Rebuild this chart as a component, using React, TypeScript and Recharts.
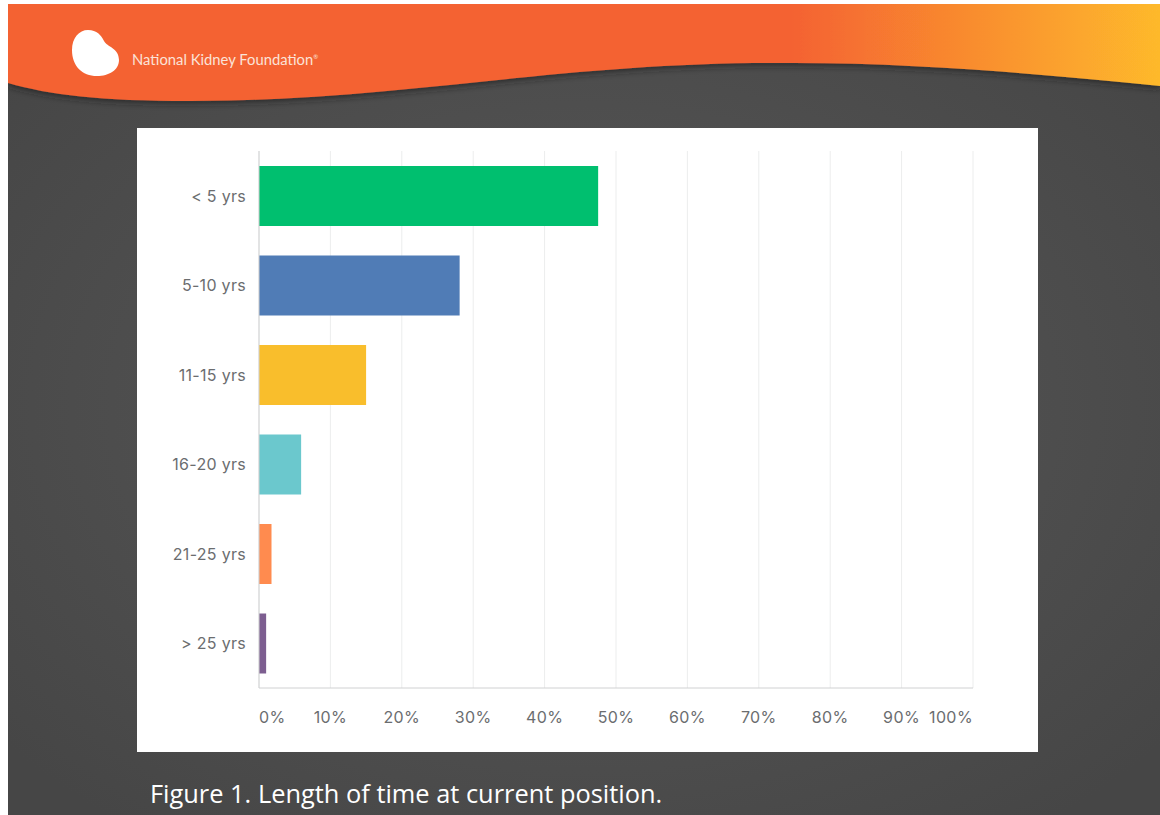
import { BarChart, Bar, Cell, XAxis, YAxis, CartesianGrid } from 'recharts';

const categories = ['< 5 yrs', '5-10 yrs', '11-15 yrs', '16-20 yrs', '21-25 yrs', '> 25 yrs'];
const shares = [47.5, 28.1, 15, 5.9, 1.75, 1];
const barColors = ['#00bf6f', '#507cb6', '#f9be2c', '#6bc8cd', '#ff8b4f', '#7d5e90'];
const percentTicks = [0, 10, 20, 30, 40, 50, 60, 70, 80, 90, 100];

const rows = categories.map((name, i) => ({ name, share: shares[i] }));

const labelFont = 'Inter, "Noto Sans", sans-serif';
const labelColor = '#6b6d6f';

// first and last tick labels sit inside the plot edges
function PercentTick({ x, y, payload }: any) {
  const v = payload.value;
  const anchor = v === 0 ? 'start' : v === 100 ? 'end' : 'middle';
  return (
    <text x={x} y={y} dy={6} textAnchor={anchor} fontSize={16} letterSpacing={0.4} fontFamily={labelFont} fill={labelColor}>
      {v}%
    </text>
  );
}

function CategoryTick({ x, y, payload }: any) {
  return (
    <text x={x} y={y} dy={6} textAnchor="end" fontSize={16} letterSpacing={0.3} fontFamily={labelFont} fill={labelColor}>
      {payload.value}
    </text>
  );
}

function SlideBackground() {
  return (
    <svg width={1160} height={815} style={{ position: 'absolute', left: 0, top: 0 }}>
      <defs>
        <radialGradient id="slideBg" cx="50%" cy="50%" r="65%">
          <stop offset="0%" stopColor="#595959" />
          <stop offset="100%" stopColor="#464646" />
        </radialGradient>
        <linearGradient id="bannerFill" x1="0" y1="0" x2="1" y2="0">
          <stop offset="0%" stopColor="#f46231" />
          <stop offset="68%" stopColor="#f46231" />
          <stop offset="100%" stopColor="#feb92c" />
        </linearGradient>
        <filter id="bannerShadow" x="-5%" y="-5%" width="110%" height="130%">
          <feDropShadow dx="0" dy="3" stdDeviation="3" floodColor="#222" floodOpacity="0.6" />
        </filter>
        <clipPath id="slideClip">
          <rect x={8} y={4} width={1152} height={811} />
        </clipPath>
      </defs>
      <rect x={8} y={4} width={1152} height={811} fill="url(#slideBg)" />
      <g clipPath="url(#slideClip)">
        <path
          d="M8 4 H1160 V86 C1060 76 920 62 780 63 C560 62 400 101 190 101 C100 101 50 95 8 83 Z"
          fill="url(#bannerFill)"
          filter="url(#bannerShadow)"
        />
      </g>
      <path
        d="M88 30 C97 30 101 35 104 41 C107 47 119 48 119 60 C119 70 109 76 97 76 C82 76 72 66 72 50 C72 38 79 30 88 30 Z"
        fill="#ffffff"
      />
      <text x={132} y={65} fontSize={14.8} fontFamily="Lato, sans-serif" fill="#fbe3d8">
        National Kidney Foundation
        <tspan fontSize={6} dy={-6}>®</tspan>
      </text>
      <text x={150} y={803} fontSize={25.4} fontFamily='"Open Sans", sans-serif' fontWeight={500} fill="#ffffff">
        Figure 1. Length of time at current position.
      </text>
    </svg>
  );
}

export default function App() {
  return (
    <div style={{ position: 'absolute', left: 0, top: 0, width: 1160, height: 815, background: '#ffffff', overflow: 'hidden' }}>
      <SlideBackground />
      <div style={{ position: 'absolute', left: 137, top: 128, width: 901, height: 624, background: '#ffffff' }}>
        <BarChart
          width={901}
          height={624}
          data={rows}
          layout="vertical"
          margin={{ top: 23, right: 65, bottom: 0, left: 0 }}
        >
          <CartesianGrid horizontal={false} stroke="#eceded" />
          <XAxis
            type="number"
            domain={[0, 100]}
            ticks={percentTicks}
            interval={0}
            height={64}
            tickLine={false}
            tickMargin={23}
            axisLine={{ stroke: '#d0d1d2' }}
            tick={<PercentTick />}
          />
          <YAxis
            type="category"
            dataKey="name"
            width={122}
            tickLine={false}
            tickMargin={7}
            axisLine={{ stroke: '#d0d1d2' }}
            tick={<CategoryTick />}
          />
          <Bar dataKey="share" barSize={60} isAnimationActive={false}>
            {rows.map((row, i) => (
              <Cell key={row.name} fill={barColors[i]} />
            ))}
          </Bar>
        </BarChart>
      </div>
    </div>
  );
}
